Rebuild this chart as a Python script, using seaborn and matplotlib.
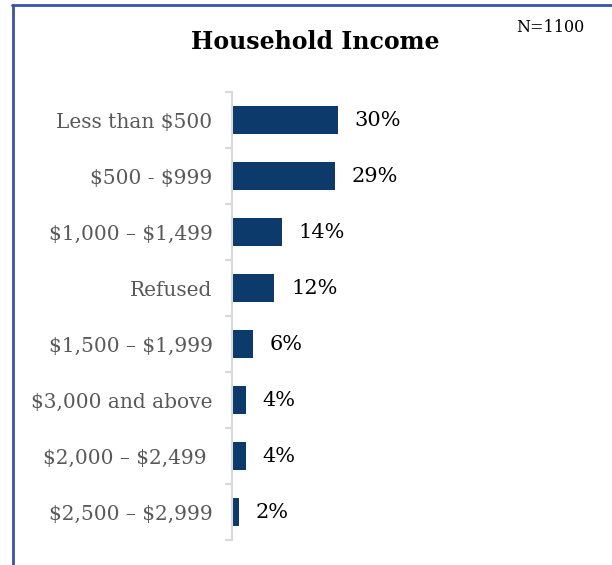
import matplotlib
matplotlib.use("Agg")
import matplotlib.pyplot as plt
from matplotlib.lines import Line2D
from matplotlib.ticker import FixedLocator
import seaborn as sns
import pandas as pd

# Survey results: household income brackets
categories = [
    "Less than $500",
    "$500 - $999",
    "$1,000 \u2013 $1,499",
    "Refused",
    "$1,500 \u2013 $1,999",
    "$3,000 and above",
    "$2,000 \u2013 $2,499 ",
    "$2,500 \u2013 $2,999",
]
shares = [30, 29, 14, 12, 6, 4, 4, 2]
value_labels = ["30%", "29%", "14%", "12%", "6%", "4%", "4%", "2%"]
title_text = "Household Income"
sample_note = "N=1100"

BAR_COLOR = "#0b3a6b"
LABEL_GRAY = "#595959"
SPINE_GRAY = "#d9d9d9"
FRAME_BLUE = "#3a53a4"

sns.set_theme(style="white")
plt.rcParams["font.family"] = ["DejaVu Serif"]
plt.rcParams["text.parse_math"] = False

df = pd.DataFrame({"bracket": categories, "share": shares})

fig = plt.figure(figsize=(6.12, 5.65), dpi=100)
ax = fig.add_axes([232 / 612, 25 / 565, 368 / 612, 448 / 565])

sns.barplot(data=df, y="bracket", x="share", orient="h", color=BAR_COLOR,
            saturation=1, width=0.5, linewidth=0, ax=ax)

ax.set_xlim(0, 104)
ax.set_ylim(len(categories) - 0.5, -0.5)
ax.set_xlabel("")
ax.set_ylabel("")
ax.set_xticks([])

for side in ("top", "right", "bottom"):
    ax.spines[side].set_visible(False)
ax.spines["left"].set_color(SPINE_GRAY)
ax.spines["left"].set_linewidth(1.5)

ax.tick_params(axis="y", which="major", length=0, pad=14,
               labelsize=14.5, labelcolor=LABEL_GRAY)
ax.yaxis.set_minor_locator(FixedLocator([i - 0.5 for i in range(len(categories) + 1)]))
ax.tick_params(axis="y", which="minor", length=5, width=1.5, color=SPINE_GRAY, left=True)

for i, (v, lab) in enumerate(zip(shares, value_labels)):
    ax.annotate(lab, xy=(v, i), xytext=(12, 0), textcoords="offset points",
                ha="left", va="center", fontsize=15, color="black")

fig.text(315 / 612, 1 - 42 / 565, title_text, ha="center", va="center",
         fontsize=17, fontweight="bold", color="black")
fig.text(550 / 612, 1 - 28 / 565, sample_note, ha="center", va="center",
         fontsize=11.5, color="black")

# Frame lines along the left and top edges
fig.add_artist(Line2D([13 / 612, 13 / 612], [0, 1 - 5 / 565], transform=fig.transFigure,
                      color=FRAME_BLUE, linewidth=2))
fig.add_artist(Line2D([12 / 612, 1], [1 - 5 / 565, 1 - 5 / 565], transform=fig.transFigure,
                      color=FRAME_BLUE, linewidth=2))

fig.savefig("out.png", dpi=100, facecolor="white")
